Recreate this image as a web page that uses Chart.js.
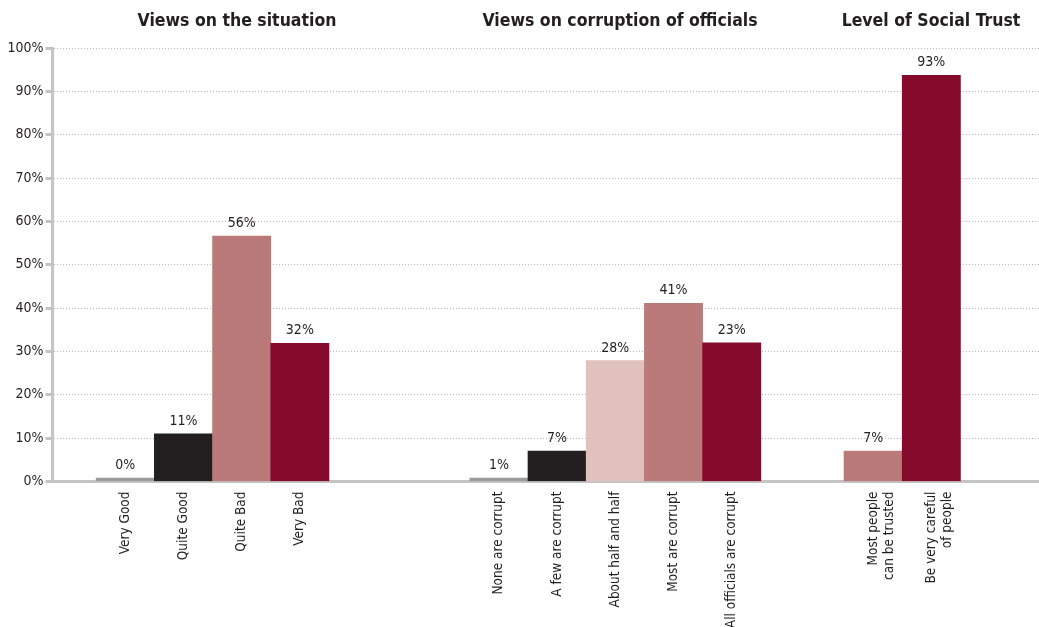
<!DOCTYPE html>
<html>
<head>
<meta charset="utf-8">
<script src="https://cdn.jsdelivr.net/npm/chart.js@4"></script>
<style>
  html, body { margin: 0; padding: 0; background: #fff; }
</style>
</head>
<body>
<canvas id="myChart" width="1039" height="627"></canvas>
<script>
const groupTitles = ['Views on the situation', 'Views on corruption of officials', 'Level of Social Trust'];

const situationLabels = ['Very Good', 'Quite Good', 'Quite Bad', 'Very Bad'];
const situationValues = [0.8, 11, 56.6, 31.9];
const situationText = ['0%', '11%', '56%', '32%'];

const corruptionLabels = ['None are corrupt', 'A few are corrupt', 'About half and half', 'Most are corrupt', 'All officials are corrupt'];
const corruptionValues = [0.8, 7, 27.9, 41.1, 32];
const corruptionText = ['1%', '7%', '28%', '41%', '23%'];

const trustLabels = [['Most people', 'can be trusted'], ['Be very careful', 'of people']];
const trustValues = [7, 93.7];
const trustText = ['7%', '93%'];

const yTickLabels = ['0%', '10%', '20%', '30%', '40%', '50%', '60%', '70%', '80%', '90%', '100%'];

// colours
const grey = '#9b9b9b', black = '#231f20', pale = '#e0c1be', rose = '#b97a79', wine = '#860a2c';
const situationColors = [grey, black, rose, wine];
const corruptionColors = [grey, black, pale, rose, wine];
const trustColors = [rose, wine];

const font = "'Liberation Sans Narrow', 'DejaVu Sans Condensed', 'Liberation Sans', sans-serif";

// where each group starts on the x axis, in bar widths
const groupStart = [0.75, 7.17, 13.6];
const xMax = 16.95;

const groups = [
  { labels: situationLabels, values: situationValues, text: situationText, colors: situationColors },
  { labels: corruptionLabels, values: corruptionValues, text: corruptionText, colors: corruptionColors },
  { labels: trustLabels, values: trustValues, text: trustText, colors: trustColors }
];

const points = [], colors = [], labels = [], valueText = [], centers = [];
groups.forEach((g, gi) => {
  g.values.forEach((v, i) => {
    const x = groupStart[gi] + i + 0.5;
    points.push({ x: x, y: v });
    centers.push(x);
    colors.push(g.colors[i]);
    labels.push(g.labels[i]);
    valueText.push(g.text[i]);
  });
});

const titlePos = [237, 620, 931];

const textPlugin = {
  id: 'textPlugin',
  afterDatasetsDraw(chart) {
    const ctx = chart.ctx;
    const meta = chart.getDatasetMeta(0);
    ctx.save();
    ctx.fillStyle = black;
    ctx.textAlign = 'center';
    ctx.textBaseline = 'alphabetic';
    ctx.font = '14px ' + font;
    meta.data.forEach((bar, i) => {
      ctx.fillText(valueText[i], bar.x, bar.y - 9);
    });
    ctx.font = 'bold 17.5px ' + font;
    groupTitles.forEach((t, i) => ctx.fillText(t, titlePos[i], 26));
    ctx.restore();
  }
};

new Chart(document.getElementById('myChart'), {
  type: 'bar',
  data: {
    datasets: [{
      data: points,
      backgroundColor: colors,
      borderWidth: 0,
      categoryPercentage: 1,
      barPercentage: 1
    }]
  },
  plugins: [textPlugin],
  options: {
    responsive: false,
    animation: false,
    layout: { padding: { top: 48, right: 0, left: 0, bottom: 0 } },
    plugins: {
      legend: { display: false },
      tooltip: { enabled: false }
    },
    scales: {
      x: {
        type: 'linear',
        min: 0,
        max: xMax,
        offset: false,
        grid: { display: false, offset: false },
        border: { display: true, color: '#c4c4c4', width: 3 },
        afterBuildTicks: (scale) => {
          scale.ticks = centers.map(v => ({ value: v }));
        },
        afterFit: (scale) => { scale.height = 145.5; },
        ticks: {
          autoSkip: false,
          minRotation: 90,
          maxRotation: 90,
          padding: 2,
          color: black,
          font: { family: font, size: 13.5 },
          callback: (value, index) => labels[index]
        }
      },
      y: {
        min: 0,
        max: 100,
        afterFit: (scale) => { scale.width = 52.5; },
        grid: {
          color: '#b5b5b5',
          lineWidth: 1,
          tickLength: 7,
          tickColor: '#c4c4c4',
          tickWidth: 3,
          tickBorderDash: []
        },
        border: { color: '#c4c4c4', width: 3, dash: [1, 2] },
        ticks: {
          stepSize: 10,
          padding: 2,
          color: black,
          font: { family: font, size: 14 },
          callback: (value, index) => yTickLabels[index]
        }
      }
    }
  }
});
</script>
</body>
</html>
